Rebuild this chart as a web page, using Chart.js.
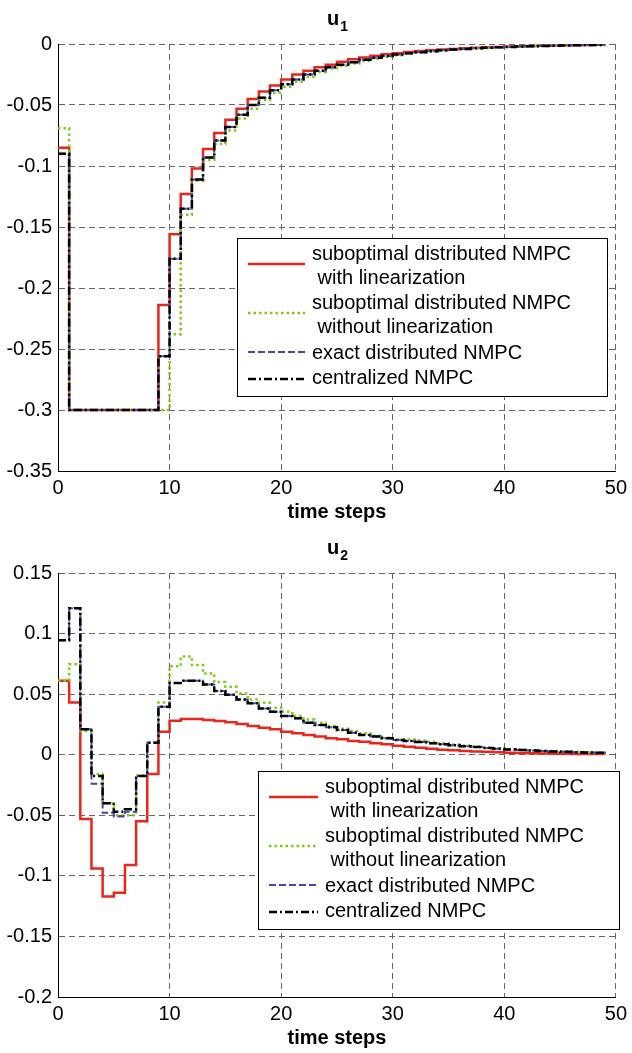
<!DOCTYPE html>
<html>
<head>
<meta charset="utf-8">
<script src="https://cdn.jsdelivr.net/npm/chart.js@4.4.0/dist/chart.umd.min.js"></script>
<style>
  body { margin: 0; background: #fff; }
  .panel { position: absolute; left: 0; width: 632px; }
</style>
</head>
<body>
<div class="panel" style="top:0;height:527px"><canvas id="chartU1" width="632" height="527"></canvas></div>
<div class="panel" style="top:527px;height:526px"><canvas id="chartU2" width="632" height="526"></canvas></div>
<script>
// time steps 0..49 (stairs plot)
const timeSteps = [0,1,2,3,4,5,6,7,8,9,10,11,12,13,14,15,16,17,18,19,20,21,22,23,24,25,26,27,28,29,30,31,32,33,34,35,36,37,38,39,40,41,42,43,44,45,46,47,48,49];

const seriesNames = [
  ['suboptimal distributed NMPC', ' with linearization'],
  ['suboptimal distributed NMPC', ' without linearization'],
  ['exact distributed NMPC'],
  ['centralized NMPC']
];

// u1
const u1SubLin = [-0.085,-0.3,-0.3,-0.3,-0.3,-0.3,-0.3,-0.3,-0.3,-0.214,-0.156,-0.123,-0.102,-0.086,-0.073,-0.062,-0.053,-0.045,-0.039,-0.034,-0.029,-0.025,-0.022,-0.019,-0.017,-0.0145,-0.0126,-0.011,-0.0096,-0.0085,-0.0075,-0.0066,-0.0058,-0.0051,-0.0045,-0.004,-0.0035,-0.0031,-0.0027,-0.0024,-0.0021,-0.0018,-0.0016,-0.0014,-0.0012,-0.0011,-0.0009,-0.0008,-0.0007,-0.0006];
const u1SubNoLin = [-0.069,-0.3,-0.3,-0.3,-0.3,-0.3,-0.3,-0.3,-0.3,-0.3,-0.238,-0.14,-0.112,-0.095,-0.082,-0.071,-0.061,-0.053,-0.046,-0.04,-0.035,-0.031,-0.027,-0.023,-0.02,-0.018,-0.016,-0.014,-0.012,-0.0105,-0.0092,-0.008,-0.007,-0.0062,-0.0054,-0.0047,-0.0041,-0.0036,-0.0032,-0.0028,-0.0025,-0.0022,-0.0019,-0.0017,-0.0015,-0.0013,-0.0011,-0.001,-0.0009,-0.0008];
const u1Exact = [-0.09,-0.3,-0.3,-0.3,-0.3,-0.3,-0.3,-0.3,-0.3,-0.256,-0.176,-0.135,-0.111,-0.093,-0.079,-0.068,-0.058,-0.05,-0.044,-0.038,-0.033,-0.029,-0.025,-0.022,-0.019,-0.017,-0.015,-0.013,-0.0113,-0.0099,-0.0087,-0.0076,-0.0067,-0.0059,-0.0052,-0.0045,-0.004,-0.0035,-0.0031,-0.0027,-0.0024,-0.0021,-0.0018,-0.0016,-0.0014,-0.0012,-0.0011,-0.0009,-0.0008,-0.0007];
const u1Central = [-0.09,-0.3,-0.3,-0.3,-0.3,-0.3,-0.3,-0.3,-0.3,-0.256,-0.176,-0.135,-0.111,-0.093,-0.079,-0.068,-0.058,-0.05,-0.044,-0.038,-0.033,-0.029,-0.025,-0.022,-0.019,-0.017,-0.015,-0.013,-0.0113,-0.0099,-0.0087,-0.0076,-0.0067,-0.0059,-0.0052,-0.0045,-0.004,-0.0035,-0.0031,-0.0027,-0.0024,-0.0021,-0.0018,-0.0016,-0.0014,-0.0012,-0.0011,-0.0009,-0.0008,-0.0007];

// u2
const u2SubLin = [0.061,0.043,-0.053,-0.094,-0.117,-0.114,-0.091,-0.055,-0.016,0.019,0.028,0.0294,0.0294,0.0286,0.0278,0.0267,0.0254,0.0237,0.0223,0.021,0.019,0.0177,0.0163,0.015,0.0136,0.0128,0.0114,0.0106,0.0095,0.0087,0.0075,0.0066,0.0058,0.005,0.0042,0.0036,0.003,0.0027,0.0024,0.0021,0.0017,0.0015,0.0013,0.0011,0.0008,0.0007,0.0006,0.0005,0.0005,0.0004];
const u2SubNoLin = [0.061,0.0747,0.0195,-0.016,-0.04,-0.05,-0.05,-0.017,0.01,0.043,0.073,0.081,0.074,0.067,0.06,0.056,0.0506,0.0456,0.0428,0.0387,0.0354,0.0319,0.029,0.0264,0.0237,0.0215,0.0196,0.0177,0.0157,0.0141,0.0127,0.0125,0.0118,0.0106,0.0095,0.0085,0.0076,0.0068,0.006,0.0054,0.0048,0.0042,0.0037,0.0033,0.003,0.0027,0.0024,0.0021,0.0019,0.0017];
const u2Exact = [0.0945,0.121,0.021,-0.024,-0.048,-0.051,-0.047,-0.0175,0.0099,0.0395,0.0593,0.061,0.061,0.058,0.0525,0.0496,0.0456,0.0425,0.0382,0.0354,0.0319,0.03,0.0264,0.0245,0.0226,0.0204,0.0182,0.0163,0.015,0.0136,0.0122,0.0113,0.0105,0.0095,0.0086,0.0078,0.007,0.0063,0.0056,0.005,0.0044,0.0039,0.0034,0.003,0.0027,0.0024,0.0021,0.0019,0.0017,0.0015];
const u2Central = [0.0945,0.121,0.021,-0.0175,-0.04,-0.047,-0.045,-0.0175,0.0099,0.0395,0.0593,0.061,0.061,0.058,0.0525,0.0496,0.0456,0.0425,0.0382,0.0354,0.0319,0.03,0.0264,0.0245,0.0226,0.0204,0.0182,0.0163,0.015,0.0136,0.0122,0.0113,0.0105,0.0095,0.0086,0.0078,0.007,0.0063,0.0056,0.005,0.0044,0.0039,0.0034,0.003,0.0027,0.0024,0.0021,0.0019,0.0017,0.0015];

const xRange = [0, 50];
const u1Range = [-0.35, 0];
const u2Range = [-0.2, 0.15];

const FONT = '"Liberation Sans", Arial, sans-serif';
const styles = [
  { color: '#e8261c', dash: [], width: 2.5 },
  { color: '#7ccc14', dash: [2.5, 3], width: 2.5 },
  { color: '#4646b4', dash: [7, 3], width: 2 },
  { color: '#000000', dash: [8, 3, 2, 3], width: 2.5 }
];

Chart.defaults.font.family = FONT;
Chart.defaults.font.size = 20;
Chart.defaults.color = '#000';

// title, x label and boxed legend like the matlab figure
const decor = {
  id: 'decor',
  afterDatasetsDraw(chart, args, opts) {
    const ctx = chart.ctx;
    const a = chart.chartArea;
    const cx = (a.left + a.right) / 2;
    ctx.save();
    ctx.fillStyle = '#000';
    ctx.textBaseline = 'alphabetic';

    ctx.font = 'bold 20px ' + FONT;
    const uW = ctx.measureText('u').width;
    ctx.font = 'bold 14px ' + FONT;
    const sW = ctx.measureText(opts.sub).width;
    const x0 = cx - (uW + sW) / 2;
    ctx.textAlign = 'left';
    ctx.font = 'bold 20px ' + FONT;
    ctx.fillText('u', x0, a.top - 19);
    ctx.font = 'bold 14px ' + FONT;
    ctx.fillText(opts.sub, x0 + uW + 1, a.top - 13);

    ctx.font = 'bold 20px ' + FONT;
    ctx.textAlign = 'center';
    ctx.fillText('time steps', cx, a.bottom + 47);

    // legend box: [left, top, width, text offset]
    const [lx, ly, lw, tx] = opts.legend;
    ctx.fillStyle = '#fff';
    ctx.fillRect(lx, ly, lw, 158);
    ctx.strokeStyle = '#000';
    ctx.lineWidth = 1;
    ctx.strokeRect(lx + 0.5, ly + 0.5, lw, 158);

    const textRows = [16, 40, 65, 89, 115, 140];
    const sampleY = [26, 75, 114, 141];
    ctx.font = '20px ' + FONT;
    ctx.textAlign = 'left';
    ctx.textBaseline = 'middle';
    ctx.fillStyle = '#000';
    let r = 0;
    seriesNames.forEach((lines, i) => {
      lines.forEach(t => { ctx.fillText(t, lx + tx, ly + textRows[r]); r++; });
      ctx.save();
      ctx.strokeStyle = styles[i].color;
      ctx.lineWidth = styles[i].width;
      ctx.setLineDash(styles[i].dash);
      ctx.beginPath();
      ctx.moveTo(lx + 11, ly + sampleY[i]);
      ctx.lineTo(lx + tx - 7, ly + sampleY[i]);
      ctx.stroke();
      ctx.restore();
    });
    ctx.restore();
  }
};

function makeChart(id, height, plotTop, plotBottom, sub, yRange, series, legendAt) {
  return new Chart(document.getElementById(id), {
    type: 'line',
    data: {
      labels: timeSteps,
      datasets: series.map((d, i) => ({
        label: seriesNames[i].join(''),
        data: d,
        borderColor: styles[i].color,
        borderDash: styles[i].dash,
        borderWidth: styles[i].width,
        stepped: true,
        pointRadius: 0,
        fill: false,
        order: 3 - i
      }))
    },
    options: {
      responsive: false,
      animation: false,
      layout: { padding: { top: plotTop, right: 12, left: 0, bottom: 0 } },
      plugins: {
        legend: { display: false },
        tooltip: { enabled: false },
        decor: { sub: sub, legend: legendAt }
      },
      scales: {
        x: {
          type: 'linear', min: xRange[0], max: xRange[1],
          ticks: { stepSize: 10, padding: 5, maxRotation: 0 },
          grid: { color: '#666', drawTicks: false },
          border: { display: true, color: '#000', width: 1, dash: [6, 4] },
          afterFit(s) { s.height = height - plotBottom; }
        },
        y: {
          min: yRange[0], max: yRange[1],
          ticks: { stepSize: 0.05, padding: 6, callback: v => String(+v.toFixed(2)) },
          grid: { color: '#666', drawTicks: false },
          border: { display: true, color: '#000', width: 1, dash: [6, 4] },
          afterFit(s) { s.width = 58; }
        }
      }
    },
    plugins: [decor]
  });
}

makeChart('chartU1', 527, 44, 471, '1', u1Range, [u1SubLin, u1SubNoLin, u1Exact, u1Central], [237, 238, 370, 75]);
makeChart('chartU2', 526, 46, 470, '2', u2Range, [u2SubLin, u2SubNoLin, u2Exact, u2Central], [258, 244, 361, 67]);
</script>
</body>
</html>
